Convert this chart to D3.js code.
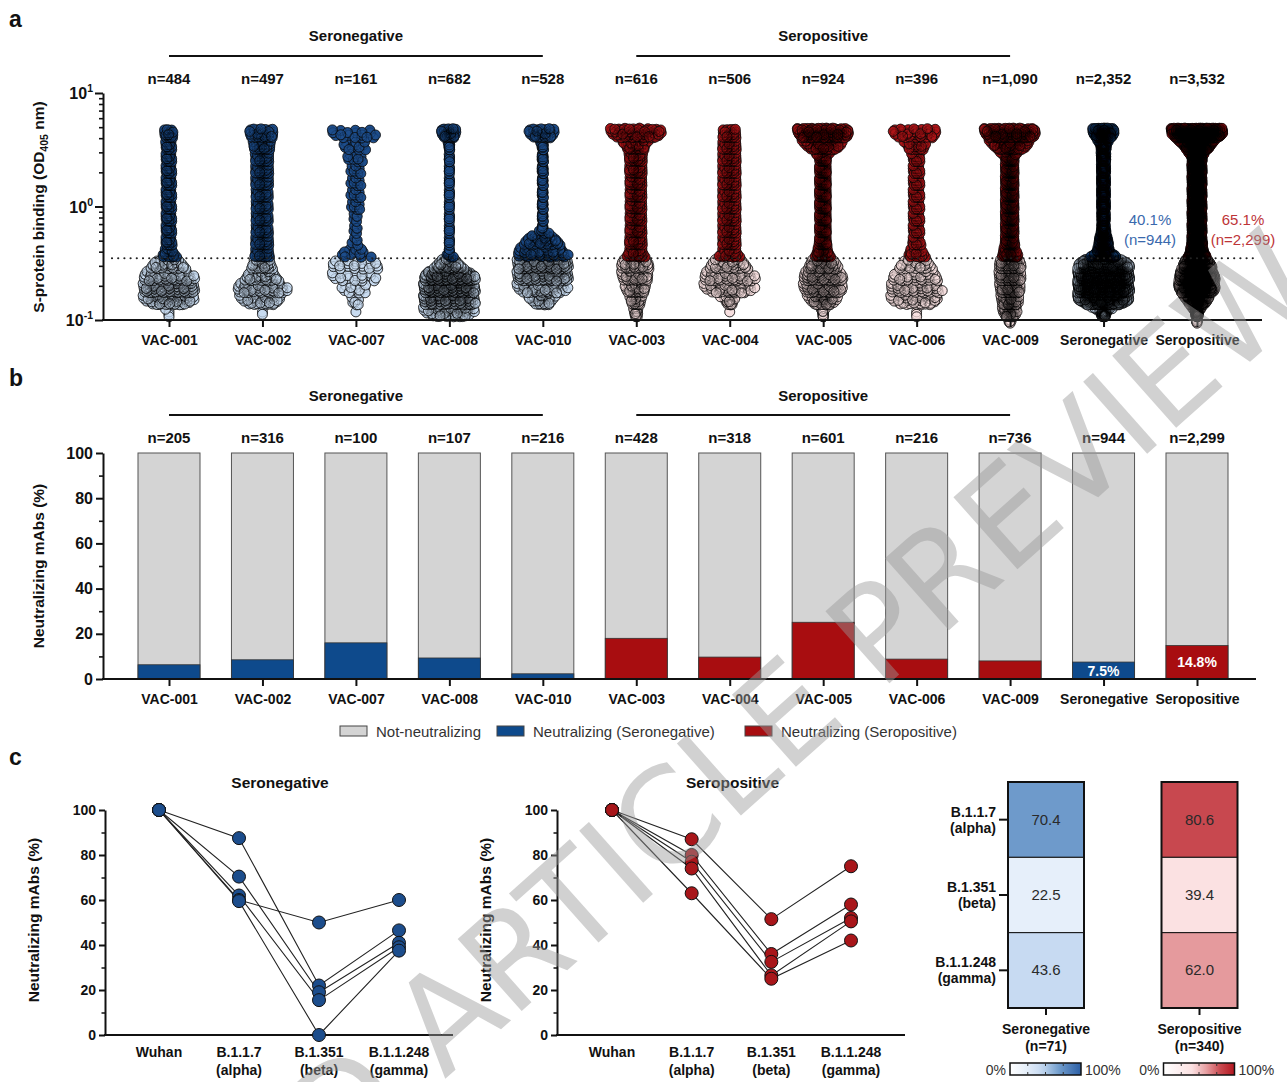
<!DOCTYPE html>
<html>
<head>
<meta charset="utf-8">
<script src="https://cdn.jsdelivr.net/npm/d3@7"></script>
<style>
body { margin: 0; background: #fff; }
svg text { font-family: "Liberation Sans", Arial, sans-serif; fill: #111; }
.b { font-weight: bold; }
</style>
</head>
<body>
<svg id="fig" width="1287" height="1082"></svg>
<script>
// ---- data ----
var donors = ["VAC-001", "VAC-002", "VAC-007", "VAC-008", "VAC-010", "VAC-003", "VAC-004", "VAC-005", "VAC-006", "VAC-009"];
var donorGroup = ["neg", "neg", "neg", "neg", "neg", "pos", "pos", "pos", "pos", "pos"];
var pooledNames = ["Seronegative", "Seropositive"];
var threshold = 0.35;   // OD405 cut-off (dotted line)

// mAbs per OD405 bin (log10 bins of 0.105), lowest bin first:
// 6 bins below the cut-off, then 11 bins above it
var odBins001 = [0, 4, 80, 95, 60, 40, 21, 18, 18, 18, 18, 18, 18, 18, 18, 18, 22];
var odBins002 = [0, 2, 47, 60, 40, 32, 28, 28, 27, 27, 27, 27, 28, 28, 28, 31, 37];
var odBins007 = [0, 1, 7, 13, 18, 22, 12, 5, 5, 5, 8, 8, 8, 8, 10, 12, 19];
var odBins008 = [0, 77, 140, 160, 150, 48, 8, 6, 6, 6, 6, 6, 6, 6, 7, 10, 40];
var odBins010 = [0, 0, 37, 60, 105, 110, 55, 45, 9, 9, 9, 9, 9, 10, 10, 10, 41];
var odBins003 = [0, 18, 30, 42, 48, 50, 34, 34, 33, 33, 33, 33, 33, 34, 34, 41, 86];
var odBins004 = [0, 1, 22, 60, 60, 45, 29, 29, 29, 29, 29, 29, 29, 29, 29, 29, 28];
var odBins005 = [0, 13, 70, 85, 85, 70, 46, 37, 37, 37, 37, 37, 37, 37, 37, 81, 178];
var odBins006 = [0, 3, 50, 55, 40, 32, 22, 16, 16, 16, 16, 16, 16, 16, 16, 26, 40];
var odBins009 = [6, 60, 66, 72, 75, 75, 59, 49, 49, 49, 49, 49, 49, 49, 49, 95, 190];
var donorBins = [odBins001, odBins002, odBins007, odBins008, odBins010, odBins003, odBins004, odBins005, odBins006, odBins009];

// panel b: % neutralizing among S-binding mAbs
var neutralPct = [6.3, 8.5, 16.0, 9.3, 2.3, 18.0, 9.7, 25.1, 8.8, 8.0];
var pooledNeutralPct = [7.5, 14.8];

// panel c: % of Wuhan-neutralizing mAbs still neutralizing each variant
var variants = ["Wuhan", "B.1.1.7", "B.1.351", "B.1.1.248"];
var variantNames = ["", "(alpha)", "(beta)", "(gamma)"];
var negDonorNeut = [[100, 87.5, 22, 46.5], [100, 70.4, 19, 41], [100, 62, 15.5, 39], [100, 60, 50, 60], [100, 59.5, 0, 37.5]];
var posDonorNeut = [[100, 87, 51.5, 75], [100, 80, 36, 58], [100, 77, 32.5, 52], [100, 74, 26.5, 50.5], [100, 63, 25, 42]];
var heatNeg = [70.4, 22.5, 43.6];
var heatPos = [80.6, 39.4, 62.0];
var heatN = [71, 340];

var negDark = "#1d4d8b", negLight = "#c8dbf0", posDark = "#ad1518", posLight = "#f6dfdf";
var barNeg = "#0e4a8c", barPos = "#a80d10";

var svg = d3.select("#fig");

function panelLetter(t, y) {
    svg.append("text").attr("class", "b").attr("x", 9).attr("y", y).attr("font-size", 23).text(t);
}
function styleAxis(g, w) {
    g.selectAll("path,line").attr("stroke", "#111").attr("stroke-width", w);
}

// ================= panel a =================
panelLetter("a", 27);
var BIN = 0.105, logT = Math.log10(threshold);
var negBins = d3.range(17).map(function(i) { return d3.sum([0, 1, 2, 3, 4], function(j) { return donorBins[j][i]; }); });
var posBins = d3.range(17).map(function(i) { return d3.sum([5, 6, 7, 8, 9], function(j) { return donorBins[j][i]; }); });
var colsA = donors.concat(pooledNames);
var binsA = donorBins.concat([negBins, posBins]);
var groupA = donorGroup.concat(["neg", "pos"]);

var xA = d3.scalePoint().domain(colsA).range([169, 1197]);
var yA = d3.scaleLog().domain([0.1, 10]).range([320, 93]);

function frac(v) { return v - Math.floor(v); }
function columnDots(bins, cx, grp) {
    var N = d3.sum(bins);
    var spreads = bins.map(function(c) { return 52 * Math.min(1, Math.pow(c / N / 0.105, 2)); });
    var pts = [];
    bins.forEach(function(c, i) {
        for (var k = 0; k < c; k++) {
            var v = frac(0.5 + k * 0.7548776662), u = frac(0.5 + k * 0.5698402910);
            var t = i == 0 ? i + 0.55 + 0.4 * v : i + 0.08 + 0.84 * v;
            var tc = t - 0.5, i0 = Math.floor(tc), f = tc - i0;
            var s0 = i0 < 0 ? 0 : spreads[i0];
            var s1 = i0 + 1 > 16 ? spreads[16] : spreads[i0 + 1];
            var sp = s0 + (s1 - s0) * f;
            pts.push({
                x: cx + (u - 0.5) * sp,
                y: yA(Math.pow(10, logT + BIN * (t - 6))),
                fill: i >= 6 ? (grp == "neg" ? negDark : posDark) : (grp == "neg" ? negLight : posLight)
            });
        }
    });
    return pts;
}

var dotsG = svg.append("g");
colsA.forEach(function(name, j) {
    var pts = columnDots(binsA[j], xA(name), groupA[j]);
    var col = dotsG.append("g");
    col.append("g").selectAll("circle").data(pts).enter().append("circle")
        .attr("cx", function(d) { return d.x; })
        .attr("cy", function(d) { return d.y; })
        .attr("r", 5)
        .attr("fill", function(d) { return d.fill; })
        .attr("stroke", "#111")
        .attr("stroke-width", 0.75);
    // faint outline overlay: dense swarms turn dark as in the original
    col.append("g").selectAll("circle").data(pts).enter().append("circle")
        .attr("cx", function(d) { return d.x; })
        .attr("cy", function(d) { return d.y; })
        .attr("r", 5)
        .attr("fill", "none")
        .attr("stroke", "#000")
        .attr("stroke-opacity", 0.24)
        .attr("stroke-width", 0.75);
});

// threshold
svg.append("line")
    .attr("x1", 112).attr("x2", 1256)
    .attr("y1", yA(threshold)).attr("y2", yA(threshold))
    .attr("stroke", "#222").attr("stroke-width", 2.2)
    .attr("stroke-linecap", "round").attr("stroke-dasharray", "0,6.2");

// y axis (log)
var yAxA = svg.append("g").attr("transform", "translate(103,0)")
    .call(d3.axisLeft(yA).tickValues([0.1, 1, 10]).tickSize(8).tickSizeOuter(0).tickFormat(""));
styleAxis(yAxA, 2);
var minorA = [];
[0.1, 1].forEach(function(base) { for (var m = 2; m <= 9; m++) minorA.push(base * m); });
var yMinA = svg.append("g").attr("transform", "translate(103,0)")
    .call(d3.axisLeft(yA).tickValues(minorA).tickSize(4).tickFormat(""));
yMinA.select(".domain").remove();
styleAxis(yMinA, 1.6);
[[0.1, "-1"], [1, "0"], [10, "1"]].forEach(function(t) {
    var tx = svg.append("text").attr("class", "b").attr("x", 93).attr("y", yA(t[0]) + 6)
        .attr("text-anchor", "end").attr("font-size", 16);
    tx.append("tspan").text("10");
    tx.append("tspan").attr("dy", -7).attr("font-size", 10.5).text(t[1]);
});
var ttlA = svg.append("text").attr("class", "b").attr("font-size", 15.5)
    .attr("text-anchor", "middle").attr("transform", "translate(44,207) rotate(-90)");
ttlA.append("tspan").text("S-protein binding (OD");
ttlA.append("tspan").attr("font-size", 10.5).attr("dy", 4).text("405");
ttlA.append("tspan").attr("dy", -4).text(" nm)");

// x axis
svg.append("line").attr("x1", 102).attr("x2", 1262).attr("y1", 320).attr("y2", 320)
    .attr("stroke", "#111").attr("stroke-width", 2);
var xAxA = svg.append("g").attr("transform", "translate(0,320)")
    .call(d3.axisBottom(xA).tickSize(7).tickSizeOuter(0));
xAxA.select(".domain").remove();
styleAxis(xAxA, 2);
xAxA.selectAll("text").attr("class", "b").attr("font-size", 14).attr("fill", "#111")
    .attr("font-family", "Liberation Sans, Arial, sans-serif").attr("dy", "1.05em");

// n labels and groups
colsA.forEach(function(name, j) {
    var n = d3.sum(binsA[j]);
    svg.append("text").attr("class", "b").attr("x", xA(name)).attr("y", 84)
        .attr("text-anchor", "middle").attr("font-size", 15).text("n=" + d3.format(",")(n));
});
function groupHeader(xs, y, lineY, label) {
    svg.append("line").attr("x1", xs[0]).attr("x2", xs[1]).attr("y1", lineY).attr("y2", lineY)
        .attr("stroke", "#111").attr("stroke-width", 2);
    svg.append("text").attr("class", "b").attr("x", (xs[0] + xs[1]) / 2).attr("y", y)
        .attr("text-anchor", "middle").attr("font-size", 15).text(label);
}
groupHeader([xA("VAC-001"), xA("VAC-010")], 41, 56, "Seronegative");
groupHeader([xA("VAC-003"), xA("VAC-009")], 41, 56, "Seropositive");

// percentages binding above cut-off
[[negBins, 1150, "#3a69ad"], [posBins, 1243, "#bd3437"]].forEach(function(p) {
    var above = d3.sum(p[0].slice(6)), tot = d3.sum(p[0]);
    svg.append("text").attr("x", p[1]).attr("y", 225).attr("text-anchor", "middle")
        .attr("font-size", 15).style("fill", p[2]).text(d3.format(".1f")(above / tot * 100) + "%");
    svg.append("text").attr("x", p[1]).attr("y", 245).attr("text-anchor", "middle")
        .attr("font-size", 15).style("fill", p[2]).text("(n=" + d3.format(",")(above) + ")");
});

// ================= panel b =================
panelLetter("b", 386);
var pctB = neutralPct.concat(pooledNeutralPct);
var yB = d3.scaleLinear().domain([0, 100]).range([679, 453]);
var barW = 62;

var barsB = svg.append("g");
colsA.forEach(function(name, j) {
    var g = barsB.append("g");
    g.append("rect").attr("x", xA(name) - barW / 2).attr("width", barW)
        .attr("y", yB(100)).attr("height", yB(0) - yB(100))
        .attr("fill", "#d4d4d4").attr("stroke", "#555").attr("stroke-width", 1);
    g.append("rect").attr("x", xA(name) - barW / 2).attr("width", barW)
        .attr("y", yB(pctB[j])).attr("height", yB(0) - yB(pctB[j]))
        .attr("fill", groupA[j] == "neg" ? barNeg : barPos).attr("stroke", "#333").attr("stroke-width", 0.8);
    svg.append("text").attr("class", "b").attr("x", xA(name)).attr("y", 443)
        .attr("text-anchor", "middle").attr("font-size", 15)
        .text("n=" + d3.format(",")(d3.sum(binsA[j].slice(6))));
});
pooledNames.forEach(function(name, k) {
    svg.append("text").attr("class", "b").attr("x", xA(name)).attr("y", yB(pooledNeutralPct[k] / 2) + 5)
        .attr("text-anchor", "middle").attr("font-size", 14).style("fill", "#fff")
        .text(pooledNeutralPct[k].toFixed(1) + "%");
});

var yAxB = svg.append("g").attr("transform", "translate(103,0)")
    .call(d3.axisLeft(yB).tickValues([0, 20, 40, 60, 80, 100]).tickSize(7).tickSizeOuter(0));
styleAxis(yAxB, 2);
yAxB.selectAll("text").attr("class", "b").attr("font-size", 16).attr("fill", "#111")
    .attr("font-family", "Liberation Sans, Arial, sans-serif");
var yMinB = svg.append("g").attr("transform", "translate(103,0)")
    .call(d3.axisLeft(yB).tickValues([10, 30, 50, 70, 90]).tickSize(4).tickFormat(""));
yMinB.select(".domain").remove();
styleAxis(yMinB, 1.6);
svg.append("text").attr("class", "b").attr("font-size", 15.5).attr("text-anchor", "middle")
    .attr("transform", "translate(44,566) rotate(-90)").text("Neutralizing mAbs (%)");

svg.append("line").attr("x1", 102).attr("x2", 1256).attr("y1", 679).attr("y2", 679)
    .attr("stroke", "#111").attr("stroke-width", 2);
var xAxB = svg.append("g").attr("transform", "translate(0,679)")
    .call(d3.axisBottom(xA).tickSize(7).tickSizeOuter(0));
xAxB.select(".domain").remove();
styleAxis(xAxB, 2);
xAxB.selectAll("text").attr("class", "b").attr("font-size", 14).attr("fill", "#111")
    .attr("font-family", "Liberation Sans, Arial, sans-serif").attr("dy", "1.05em");

groupHeader([xA("VAC-001"), xA("VAC-010")], 401, 415, "Seronegative");
groupHeader([xA("VAC-003"), xA("VAC-009")], 401, 415, "Seropositive");

// legend
var legend = [["Not-neutralizing", "#d4d4d4", 340], ["Neutralizing (Seronegative)", barNeg, 497], ["Neutralizing (Seropositive)", barPos, 745]];
legend.forEach(function(l) {
    svg.append("rect").attr("x", l[2]).attr("y", 726).attr("width", 27).attr("height", 10)
        .attr("fill", l[1]).attr("stroke", "#444").attr("stroke-width", 1);
    svg.append("text").attr("x", l[2] + 36).attr("y", 737).attr("font-size", 15)
        .style("fill", "#333").text(l[0]);
});

// ================= panel c =================
panelLetter("c", 765);
var yC = d3.scaleLinear().domain([0, 100]).range([1035, 810]);

function linePanel(axisX, xRange, axisEnd, title, data, fill) {
    var xC = d3.scalePoint().domain(variants).range(xRange);
    var yAx = svg.append("g").attr("transform", "translate(" + axisX + ",0)")
        .call(d3.axisLeft(yC).tickValues([0, 20, 40, 60, 80, 100]).tickSize(6).tickSizeOuter(0));
    styleAxis(yAx, 2);
    yAx.selectAll("text").attr("class", "b").attr("font-size", 14).attr("fill", "#111")
        .attr("font-family", "Liberation Sans, Arial, sans-serif");
    var yMin = svg.append("g").attr("transform", "translate(" + axisX + ",0)")
        .call(d3.axisLeft(yC).tickValues([10, 30, 50, 70, 90]).tickSize(3.5).tickFormat(""));
    yMin.select(".domain").remove();
    styleAxis(yMin, 1.5);
    svg.append("line").attr("x1", axisX - 1).attr("x2", axisEnd).attr("y1", yC(0)).attr("y2", yC(0))
        .attr("stroke", "#111").attr("stroke-width", 2);
    variants.forEach(function(v, i) {
        svg.append("text").attr("class", "b").attr("x", xC(v)).attr("y", 1057)
            .attr("text-anchor", "middle").attr("font-size", 14).text(v);
        if (variantNames[i]) {
            svg.append("text").attr("class", "b").attr("x", xC(v)).attr("y", 1075)
                .attr("text-anchor", "middle").attr("font-size", 14).text(variantNames[i]);
        }
    });
    svg.append("text").attr("class", "b").attr("x", (xRange[0] + xRange[1]) / 2 + 1).attr("y", 788)
        .attr("text-anchor", "middle").attr("font-size", 15.5).text(title);
    svg.append("text").attr("class", "b").attr("font-size", 15.5).attr("text-anchor", "middle")
        .attr("transform", "translate(" + (axisX - 66) + ",920) rotate(-90)").text("Neutralizing mAbs (%)");

    var line = d3.line().x(function(d, i) { return xC(variants[i]); }).y(function(d) { return yC(d); });
    svg.append("g").selectAll("path").data(data).enter().append("path")
        .attr("d", line).attr("fill", "none").attr("stroke", "#222").attr("stroke-width", 1.1);
    var pts = [];
    data.forEach(function(row) { row.forEach(function(v, i) { pts.push([i, v]); }); });
    svg.append("g").selectAll("circle").data(pts).enter().append("circle")
        .attr("cx", function(d) { return xC(variants[d[0]]); })
        .attr("cy", function(d) { return yC(d[1]); })
        .attr("r", 6.5).attr("fill", fill).attr("stroke", "#111").attr("stroke-width", 1);
}
linePanel(105, [159, 399], 453, "Seronegative", negDonorNeut, "#1c4d8c");
linePanel(557, [612, 851], 905, "Seropositive", posDonorNeut, "#a8161a");

// heatmap
var heatCols = ["Seronegative", "Seropositive"];
var heatX = d3.scalePoint().domain(heatCols).range([1046, 1199.5]);
var heatY = d3.scaleBand().domain(variants.slice(1)).range([782, 1008]);
var cellW = 76;
var blueScale = d3.scaleLinear().domain([0, 25, 45, 70, 100])
    .range(["#ffffff", "#e3edf9", "#c5d9f1", "#6f9bcb", "#2c5fa6"]);
var redScale = d3.scaleLinear().domain([0, 40, 62, 80, 100])
    .range(["#ffffff", "#fbe1e2", "#e59a9d", "#c94a50", "#b3161f"]);
var heatVals = [heatNeg, heatPos], heatScales = [blueScale, redScale];

heatCols.forEach(function(col, c) {
    var cx = heatX(col);
    heatVals[c].forEach(function(v, r) {
        var rowKey = variants[r + 1];
        svg.append("rect").attr("x", cx - cellW / 2).attr("y", heatY(rowKey))
            .attr("width", cellW).attr("height", heatY.bandwidth())
            .attr("fill", heatScales[c](v)).attr("stroke", "#111").attr("stroke-width", 1);
        svg.append("text").attr("x", cx).attr("y", heatY(rowKey) + heatY.bandwidth() / 2 + 5)
            .attr("text-anchor", "middle").attr("font-size", 15).style("fill", "#2a2a2a")
            .text(v.toFixed(1));
    });
    svg.append("rect").attr("x", cx - cellW / 2).attr("y", 782).attr("width", cellW).attr("height", 226)
        .attr("fill", "none").attr("stroke", "#111").attr("stroke-width", 2);
    svg.append("line").attr("x1", cx).attr("x2", cx).attr("y1", 1008).attr("y2", 1015)
        .attr("stroke", "#111").attr("stroke-width", 2);
    svg.append("text").attr("class", "b").attr("x", cx).attr("y", 1034).attr("text-anchor", "middle")
        .attr("font-size", 14).text(col);
    svg.append("text").attr("class", "b").attr("x", cx).attr("y", 1051).attr("text-anchor", "middle")
        .attr("font-size", 14).text("(n=" + heatN[c] + ")");

    // colour bar
    var gid = "grad" + c;
    var grad = svg.append("defs").append("linearGradient").attr("id", gid);
    d3.range(0, 101, 10).forEach(function(p) {
        grad.append("stop").attr("offset", p + "%").attr("stop-color", heatScales[c](p));
    });
    var bx = cx - 36, bw = 71;
    svg.append("rect").attr("x", bx).attr("y", 1063).attr("width", bw).attr("height", 12)
        .attr("fill", "url(#" + gid + ")").attr("stroke", "#111").attr("stroke-width", 1.5);
    [0.25, 0.5, 0.75].forEach(function(q) {
        svg.append("line").attr("x1", bx + bw * q).attr("x2", bx + bw * q).attr("y1", 1063).attr("y2", 1066)
            .attr("stroke", "#333").attr("stroke-width", 1);
        svg.append("line").attr("x1", bx + bw * q).attr("x2", bx + bw * q).attr("y1", 1072).attr("y2", 1075)
            .attr("stroke", "#333").attr("stroke-width", 1);
    });
    svg.append("text").attr("x", bx - 4).attr("y", 1075).attr("text-anchor", "end")
        .attr("font-size", 14).style("fill", "#333").text("0%");
    svg.append("text").attr("x", bx + bw + 4).attr("y", 1075)
        .attr("font-size", 14).style("fill", "#333").text("100%");
});
variants.slice(1).forEach(function(v, r) {
    var cy = heatY(v) + heatY.bandwidth() / 2;
    svg.append("line").attr("x1", 999).attr("x2", 1008).attr("y1", cy).attr("y2", cy)
        .attr("stroke", "#111").attr("stroke-width", 2);
    svg.append("text").attr("class", "b").attr("x", 996).attr("y", cy - 3).attr("text-anchor", "end")
        .attr("font-size", 14).text(v);
    svg.append("text").attr("class", "b").attr("x", 996).attr("y", cy + 13).attr("text-anchor", "end")
        .attr("font-size", 14).text(variantNames[r + 1]);
});

// watermark
svg.append("text").attr("transform", "translate(517,1015) rotate(-41.7)")
    .attr("text-anchor", "middle").attr("font-size", 132)
    .style("font-family", "DejaVu Sans, sans-serif").style("fill", "#9a9a9a").style("opacity", 0.45)
    .text("ACCELERATED ARTICLE PREVIEW");
</script>
</body>
</html>
